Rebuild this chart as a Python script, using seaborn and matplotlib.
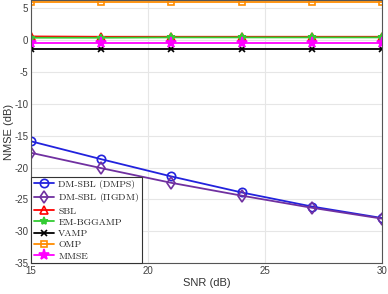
import matplotlib
matplotlib.use("Agg")
import matplotlib.pyplot as plt
import seaborn as sns
import pandas as pd

sns.set_style("white")
plt.rcParams['font.family'] = ['Liberation Sans', 'DejaVu Sans']
plt.rcParams['mathtext.fontset'] = 'cm'
plt.rcParams['axes.unicode_minus'] = False

snr = [15, 18, 21, 24, 27, 30]
dmps = [-15.9, -18.7, -21.4, -23.9, -26.1, -27.9]
pigdm = [-17.7, -20.1, -22.4, -24.4, -26.3, -28.0]
sbl = [0.5, 0.45, 0.45, 0.45, 0.45, 0.45]
bggamp = [0.3, 0.3, 0.35, 0.35, 0.35, 0.35]
vamp = [-1.45, -1.45, -1.45, -1.45, -1.45, -1.45]
omp = [5.85, 5.85, 5.85, 5.85, 5.85, 5.85]
mmse = [-0.6, -0.6, -0.6, -0.6, -0.6, -0.6]

names = ['DM-SBL (DMPS)', r'DM-SBL ($\Pi$GDM)', 'SBL', 'EM-BGGAMP', 'VAMP', 'OMP', 'MMSE']
values = [dmps, pigdm, sbl, bggamp, vamp, omp, mmse]
colors = ['#2222dd', '#7030a0', '#ff0000', '#33cc33', '#000000', '#ff8c00', '#ff00ff']
markers = ['o', 'd', '^', '*', 'x', 's', '*']
open_mk = [True, True, False, False, False, True, False]
msizes = [6, 6, 6, 6, 4, 5, 8]

fig = plt.figure(figsize=(3.88, 2.94), dpi=100)
ax = fig.add_axes([0.08, 0.104, 0.905, 0.896])

for name, vals, c, m, op, ms in zip(names, values, colors, markers, open_mk, msizes):
    df = pd.DataFrame({'SNR': snr, 'NMSE': vals})
    sns.lineplot(data=df, x='SNR', y='NMSE', ax=ax, color=c, marker=m, markersize=ms,
                 markerfacecolor='none' if op else c, markeredgecolor=c,
                 markeredgewidth=1.2, linewidth=1.3, label=name)

ax.set_xlim(15, 30)
ax.set_ylim(-35, 6.2)
ax.set_xticks([15, 20, 25, 30])
ax.set_yticks([-35, -30, -25, -20, -15, -10, -5, 0, 5])
ax.grid(True, color='#e6e6e6', linewidth=0.8)
ax.tick_params(direction='in', labelsize=7, colors='#404040', length=3, pad=2)
for s in ax.spines.values():
    s.set_color('#555555')
    s.set_linewidth(0.8)
ax.set_xlabel('SNR (dB)', fontsize=8, color='#333333', labelpad=1)
ax.set_ylabel('NMSE (dB)', fontsize=8, color='#333333', labelpad=0)

leg = ax.legend(loc='lower left', borderaxespad=0, fancybox=False, framealpha=1,
                edgecolor='#333333', prop={'family': ['cmr10', 'DejaVu Serif'], 'size': 7},
                handlelength=2.1, labelspacing=0.25, borderpad=0.3, handletextpad=0.4)
leg.get_frame().set_linewidth(0.8)
leg.legend_handles[2].set_markerfacecolor('none')

fig.savefig('out.png', dpi=100)
